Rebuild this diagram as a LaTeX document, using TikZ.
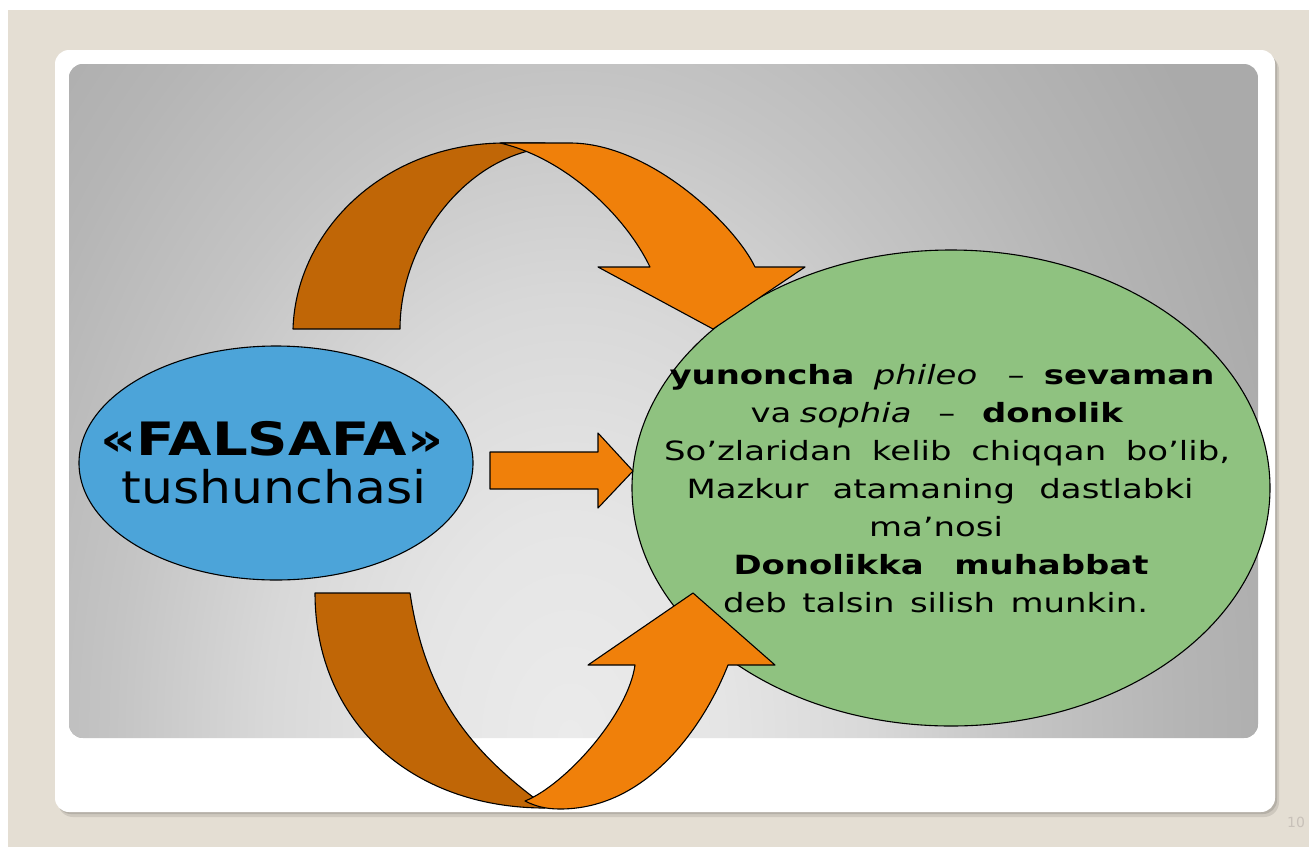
\documentclass[tikz,border=0pt]{standalone}
\usepackage{fontspec}
\setmainfont{DejaVu Sans}
\newfontfamily\slidefont[FakeStretch=1.28,BoldFont={DejaVu Sans Bold},ItalicFont={DejaVu Sans Oblique}]{DejaVu Sans}
\newfontfamily\titlefont[FakeStretch=1.22,BoldFont={DejaVu Sans Bold}]{DejaVu Sans}
\newfontfamily\subtitlefont[FakeStretch=1.12]{DejaVu Sans}
\usetikzlibrary{shapes.geometric}
\definecolor{beige}{RGB}{228,222,211}
\definecolor{shadowc}{RGB}{165,160,152}
\definecolor{bgA}{RGB}{235,235,235}
\definecolor{bgB}{RGB}{229,229,229}
\definecolor{bgC}{RGB}{216,216,216}
\definecolor{bgD}{RGB}{196,196,196}
\definecolor{bgE}{RGB}{181,181,181}
\definecolor{bgF}{RGB}{170,170,170}
\definecolor{blueF}{RGB}{76,164,217}
\definecolor{greenF}{RGB}{143,194,128}
\definecolor{orangeF}{RGB}{240,128,10}
\definecolor{darkorF}{RGB}{192,102,6}
\definecolor{pagec}{RGB}{200,193,185}
\pgfdeclareradialshading{bgshade}{\pgfpoint{0bp}{0bp}}{color(0bp)=(bgA); color(5bp)=(bgB); color(10bp)=(bgC); color(15bp)=(bgD); color(20bp)=(bgE); color(25bp)=(bgF); color(50bp)=(bgF)}
\begin{document}
\begin{tikzpicture}[x=1pt,y=-1pt,
  outl/.style={draw=black, line width=1.1pt, line join=round},
  front/.style={outl, fill=orangeF},
  back/.style={outl, fill=darkorF},
  deftxt/.style={anchor=base, inner sep=0pt, font=\slidefont\fontsize{26.5}{38}\selectfont},
  titletxt/.style={anchor=base, inner sep=0pt}]
\useasboundingbox (0,0) rectangle (1309,847);
\fill[white] (0,0) rectangle (1309,847);
\fill[beige] (8,10) rectangle (1309,847);
% card with shadow
\fill[shadowc, opacity=0.35, rounded corners=15] (58,55) rectangle (1279,817);
\fill[shadowc, opacity=0.6, rounded corners=14] (57,53) rectangle (1277,814);
\fill[white, rounded corners=14] (55,50) rectangle (1275,812);
% gray gradient panel
\begin{scope}
  \clip[rounded corners=14] (69,64) rectangle (1258,738);
  \fill[bgF] (69,64) rectangle (1258,738);
  \shade[shading=bgshade] (570,738) ellipse [x radius=760, y radius=1100];
\end{scope}
% ellipses
\node[ellipse, outl, fill=blueF, minimum width=394pt, minimum height=234pt, inner sep=0pt] (concept) at (276,463) {};
\node[ellipse, outl, fill=greenF, minimum width=638pt, minimum height=476pt, inner sep=0pt] (meaning) at (951,488) {};
% top curved arrow
\path[back] (293,329) -- (400,329) .. controls (400,250) and (455,170) .. (528,151) -- (545,143) -- (505,143) .. controls (385,143) and (296,230) .. (293,329) -- cycle;
\path[front] (500,143) .. controls (565,158) and (625,215) .. (650,267) -- (598,267) -- (713,329) -- (805,267) -- (755,267) .. controls (735,225) and (650,143) .. (570,143) -- cycle;
% bottom curved arrow
\path[back] (315,593) -- (410,593) .. controls (425,693) and (468,750) .. (545,806) -- (545,808) .. controls (410,808) and (315,720) .. (315,593) -- cycle;
\path[front] (525,801) .. controls (565,785) and (628,715) .. (635,665) -- (588,665) -- (693,593) -- (775,665) -- (728,665) .. controls (706,721) and (650,809) .. (560,809) .. controls (545,809) and (535,806) .. (525,801) -- cycle;
% straight arrow
\path[front] (490,452) -- (598,452) -- (598,433) -- (633,471) -- (598,508) -- (598,489) -- (490,489) -- cycle;
% texts in blue ellipse
\node[titletxt, font=\titlefont\fontsize{46}{50}\selectfont\bfseries] (t1) at (272,455) {«FALSAFA»};
\node[titletxt, font=\subtitlefont\fontsize{45}{50}\selectfont] (t2) at (274,503) {tushunchasi};
% texts in green ellipse
\node[deftxt] (l1) at (942,384) {\makebox[545pt][s]{\textbf{yunoncha} \textit{phileo}\hspace{11pt} – \textbf{sevaman}}};
\node[deftxt] (l2) at (937,422) {\makebox[373pt][s]{va\hspace{0.32em}\textit{sophia} – \textbf{donolik}}};
\node[deftxt] (l3) at (947,460) {\makebox[566pt][s]{So’zlaridan kelib chiqqan bo’lib,}};
\node[deftxt] (l4) at (940,498) {\makebox[507pt][s]{Mazkur atamaning dastlabki}};
\node[deftxt] (l5) at (936,536) {ma’nosi};
\node[deftxt] (l6) at (941,574) {\makebox[415pt][s]{\textbf{Donolikka muhabbat}}};
\node[deftxt] (l7) at (935.5,612) {\makebox[425pt][s]{deb talsin silish munkin.}};
% page number
\node[font=\fontsize{14}{14}\selectfont, text=pagec, inner sep=0pt] (pagenum) at (1296,822) {10};
\end{tikzpicture}
\end{document}
